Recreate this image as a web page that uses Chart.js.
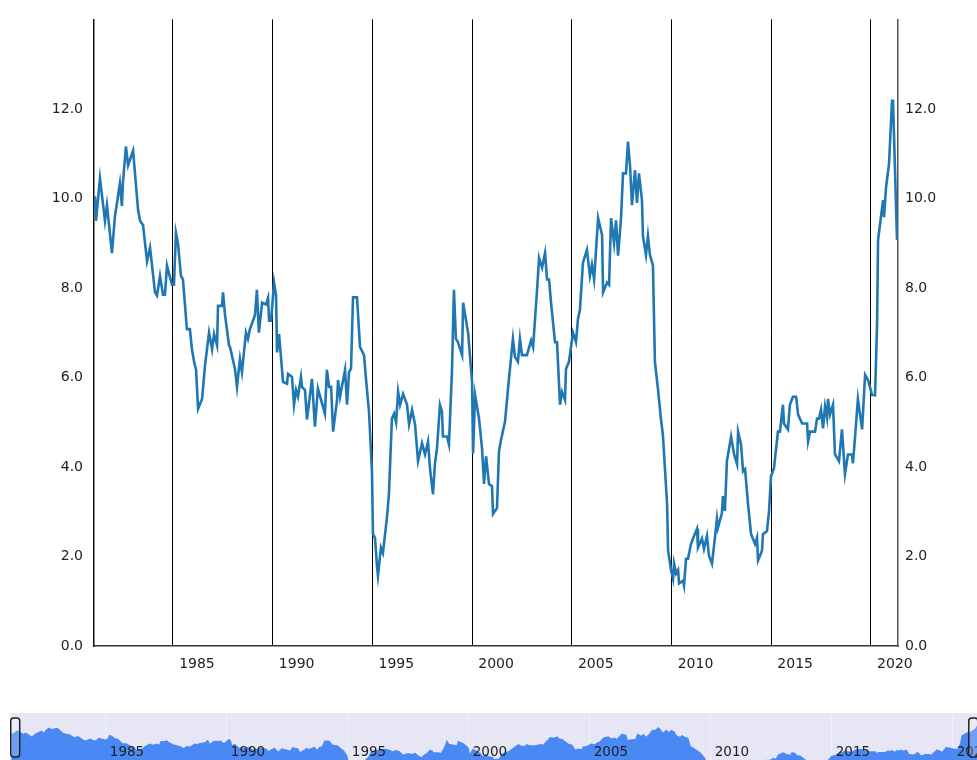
<!DOCTYPE html>
<html>
<head>
<meta charset="utf-8">
<script src="https://cdn.jsdelivr.net/npm/chart.js@4.4.0/dist/chart.umd.min.js"></script>
<style>
  html, body { margin: 0; padding: 0; background: #fff; }
  body { width: 977px; height: 760px; overflow: hidden; position: relative; }
  #mainChart { position: absolute; left: 0; top: 0; }
  #navChart { position: absolute; left: 10px; top: 713px; background: #e6e6f4; }
</style>
</head>
<body>
<canvas id="mainChart" width="977" height="680"></canvas>
<canvas id="navChart" width="980" height="47"></canvas>
<script>
const years = [1980.09,1980.14,1980.34,1980.59,1980.69,1980.94,1981.09,1981.34,1981.44,1981.49,1981.64,1981.75,1982.00,1982.25,1982.35,1982.50,1982.70,1982.85,1983.10,1983.20,1983.35,1983.50,1983.60,1983.70,1983.95,1984.05,1984.15,1984.25,1984.40,1984.50,1984.70,1984.85,1984.95,1985.06,1985.16,1985.21,1985.26,1985.46,1985.61,1985.81,1985.96,1986.06,1986.21,1986.26,1986.46,1986.51,1986.61,1986.81,1986.86,1987.11,1987.21,1987.36,1987.46,1987.66,1987.76,1987.86,1988.11,1988.21,1988.31,1988.47,1988.67,1988.77,1988.82,1988.92,1989.07,1989.17,1989.22,1989.32,1989.52,1989.72,1989.77,1989.97,1990.07,1990.17,1990.27,1990.42,1990.47,1990.62,1990.72,1990.97,1991.12,1991.27,1991.62,1991.72,1991.83,1991.93,1992.03,1992.23,1992.28,1992.38,1992.63,1992.73,1992.83,1992.93,1993.03,1993.23,1993.38,1993.58,1993.68,1993.83,1993.98,1994.03,1994.13,1994.23,1994.28,1994.43,1994.53,1994.73,1994.83,1994.98,1995.09,1995.19,1995.29,1995.39,1995.54,1995.74,1995.84,1995.99,1996.14,1996.29,1996.49,1996.64,1996.79,1996.89,1997.04,1997.14,1997.24,1997.39,1997.49,1997.54,1997.74,1997.84,1997.99,1998.09,1998.19,1998.29,1998.50,1998.55,1998.80,1999.00,1999.05,1999.15,1999.35,1999.50,1999.60,1999.70,1999.85,2000.00,2000.05,2000.25,2000.35,2000.45,2000.65,2000.85,2001.05,2001.15,2001.30,2001.40,2001.50,2001.75,2001.96,2002.06,2002.26,2002.36,2002.51,2002.66,2002.76,2002.86,2002.96,2003.16,2003.26,2003.41,2003.51,2003.66,2003.71,2003.86,2004.06,2004.21,2004.31,2004.41,2004.56,2004.76,2004.91,2005.01,2005.12,2005.32,2005.52,2005.57,2005.77,2005.87,2005.97,2006.12,2006.22,2006.32,2006.47,2006.57,2006.72,2006.82,2006.92,2007.02,2007.17,2007.27,2007.37,2007.52,2007.57,2007.72,2007.82,2007.92,2008.07,2008.17,2008.32,2008.47,2008.57,2008.78,2008.83,2008.98,2009.08,2009.13,2009.23,2009.33,2009.38,2009.58,2009.63,2009.73,2009.83,2009.98,2010.13,2010.28,2010.33,2010.53,2010.63,2010.78,2010.88,2011.03,2011.18,2011.28,2011.33,2011.53,2011.58,2011.68,2011.78,2011.99,2012.14,2012.29,2012.34,2012.49,2012.59,2012.69,2012.84,2012.99,2013.19,2013.29,2013.34,2013.54,2013.59,2013.79,2013.89,2013.99,2014.14,2014.34,2014.44,2014.59,2014.64,2014.84,2014.94,2015.09,2015.25,2015.35,2015.55,2015.80,2015.85,2015.95,2016.20,2016.30,2016.40,2016.50,2016.60,2016.70,2016.80,2016.85,2016.95,2017.10,2017.20,2017.40,2017.55,2017.70,2017.85,2018.05,2018.10,2018.20,2018.35,2018.56,2018.71,2018.86,2019.06,2019.21,2019.31,2019.36,2019.61,2019.66,2019.76,2019.91,2020.06,2020.11,2020.31];

const values = [10.05,9.5,10.45,9.5,9.85,8.78,9.6,10.34,9.83,10.34,11.16,10.74,11.07,9.74,9.5,9.4,8.6,8.9,7.9,7.83,8.27,7.85,7.85,8.5,8.07,8.07,9.23,9.0,8.27,8.19,7.08,7.08,6.63,6.35,6.17,5.72,5.3,5.52,6.28,7.0,6.63,6.97,6.72,7.6,7.6,7.9,7.4,6.72,6.68,6.19,5.79,6.41,6.12,7.0,6.86,7.08,7.39,7.96,7.0,7.67,7.63,7.78,7.27,7.27,8.12,7.83,6.56,6.97,5.9,5.86,6.08,6.01,5.39,5.72,5.57,6.01,5.79,5.72,5.06,5.97,4.9,5.75,5.19,6.17,5.79,5.79,4.79,5.5,5.94,5.57,6.17,5.39,6.12,6.2,7.79,7.79,6.68,6.5,5.97,5.24,3.9,2.5,2.42,1.8,1.57,2.2,2.08,2.86,3.39,5.08,5.19,5.0,5.68,5.39,5.63,5.39,4.95,5.28,4.95,4.13,4.53,4.28,4.57,3.97,3.39,4.08,4.41,5.39,5.24,4.68,4.68,4.5,6.12,7.96,6.86,6.79,6.5,7.67,7.0,5.9,4.3,5.61,5.08,4.41,3.62,4.24,3.62,3.57,2.95,3.08,4.35,4.6,5.01,5.97,6.86,6.46,6.35,6.86,6.5,6.5,6.83,6.68,7.96,8.67,8.45,8.78,8.19,8.19,7.67,6.79,6.79,5.39,5.68,5.5,6.19,6.35,7.0,6.79,7.3,7.52,8.56,8.85,8.27,8.52,8.19,9.56,9.18,7.9,8.12,8.07,9.56,9.0,9.51,8.72,9.56,10.56,10.56,11.27,10.74,9.85,10.63,9.9,10.56,9.96,9.16,8.74,9.16,8.74,8.5,6.35,5.75,5.08,4.72,3.17,2.13,1.69,1.5,1.84,1.62,1.7,1.4,1.46,1.35,1.95,1.95,2.28,2.46,2.62,2.2,2.4,2.17,2.46,2.02,1.84,2.42,2.84,2.64,2.97,3.35,3.02,4.13,4.68,4.28,4.06,4.79,4.5,3.9,3.95,3.17,2.5,2.28,2.42,1.91,2.13,2.5,2.57,3.0,3.79,3.97,4.79,4.79,5.39,4.97,4.84,5.39,5.57,5.57,5.17,4.97,4.97,4.57,4.79,4.79,5.08,5.08,5.28,4.86,5.35,5.1,5.52,5.17,5.39,4.28,4.13,4.84,3.84,4.28,4.28,4.08,4.64,5.52,4.84,6.06,5.94,5.61,5.6,7.2,9.07,9.96,9.58,10.25,10.77,12.18,12.18,9.07];

// vertical lines and the year labels that sit just right of them
const gridYears = [1984, 1989, 1994, 1999, 2004, 2009, 2014, 2019];
const tickLabels = ['1985', '1990', '1995', '2000', '2005', '2010', '2015', '2020'];
const yTicks = [0, 2, 4, 6, 8, 10, 12];

const points = years.map((x, i) => ({x: x, y: values[i]}));
const font = {family: 'DejaVu Sans', size: 14};

function yAxis(position, width, borderColor, padding) {
    return {
        type: 'linear',
        position: position,
        min: 0,
        max: 14,
        afterBuildTicks: s => { s.ticks = yTicks.map(v => ({value: v})); },
        afterFit: s => { s.width = width; },
        grid: {drawOnChartArea: false, drawTicks: false},
        border: {color: borderColor, width: 1.5},
        ticks: {
            padding: padding,
            color: '#222',
            font: font,
            callback: v => v.toFixed(1)
        }
    };
}

new Chart(document.getElementById('mainChart'), {
    type: 'line',
    data: {
        datasets: [{
            data: points,
            borderColor: '#1f77b4',
            borderWidth: 2.6,
            pointRadius: 0,
            tension: 0,
            fill: false
        }]
    },
    options: {
        responsive: false,
        animation: false,
        layout: {padding: {top: 15}},
        plugins: {legend: {display: false}, tooltip: {enabled: false}},
        scales: {
            x: {
                type: 'linear',
                min: 1980.04,
                max: 2020.36,
                afterBuildTicks: s => { s.ticks = gridYears.map(v => ({value: v})); },
                afterFit: s => { s.height = 34; },
                grid: {color: '#000', lineWidth: 1, drawTicks: false},
                border: {color: '#333', width: 1.5},
                ticks: {
                    padding: 10,
                    labelOffset: 24,
                    maxRotation: 0,
                    autoSkip: false,
                    color: '#222',
                    font: font,
                    callback: (v, i) => tickLabels[i]
                }
            },
            y: yAxis('left', 94, '#111', 11),
            y2: yAxis('right', 79, '#555', 7)
        }
    }
});

// navigator: year labels over the area, plus the two range handles
const navExtras = {
    id: 'navExtras',
    afterDraw(chart) {
        const ctx = chart.ctx;
        const x = chart.scales.x;
        ctx.save();
        ctx.font = '13.5px "DejaVu Sans"';
        ctx.fillStyle = '#222';
        ctx.textBaseline = 'middle';
        gridYears.forEach((g, i) => {
            ctx.fillText(tickLabels[i], x.getPixelForValue(g) + 4, 39);
        });
        const spots = [x.getPixelForValue(years[0]) + 4, x.getPixelForValue(2019.85)];
        ctx.strokeStyle = '#222';
        ctx.lineWidth = 1.5;
        ctx.fillStyle = 'rgba(255,255,255,0.2)';
        spots.forEach(px => {
            ctx.beginPath();
            ctx.roundRect(px - 4.5, 5, 9, 39, 3);
            ctx.fill();
            ctx.stroke();
        });
        ctx.restore();
    }
};

new Chart(document.getElementById('navChart'), {
    type: 'line',
    data: {
        datasets: [{
            data: points,
            borderWidth: 0,
            borderColor: '#4a89f3',
            backgroundColor: '#4a89f3',
            pointRadius: 0,
            tension: 0,
            fill: 'start'
        }]
    },
    options: {
        responsive: false,
        animation: false,
        layout: {padding: 0},
        plugins: {legend: {display: false}, tooltip: {enabled: false}},
        scales: {
            x: {
                type: 'linear',
                z: 1,
                min: 1980.04,
                max: 2020.54,
                afterBuildTicks: s => { s.ticks = gridYears.map(v => ({value: v})); },
                afterFit: s => { s.height = 0; },
                grid: {color: 'rgba(255,255,255,0.4)', drawTicks: false},
                border: {display: false},
                ticks: {display: false}
            },
            y: {display: false, min: 2.7, max: 14.9}
        }
    },
    plugins: [navExtras]
});
</script>
</body>
</html>
